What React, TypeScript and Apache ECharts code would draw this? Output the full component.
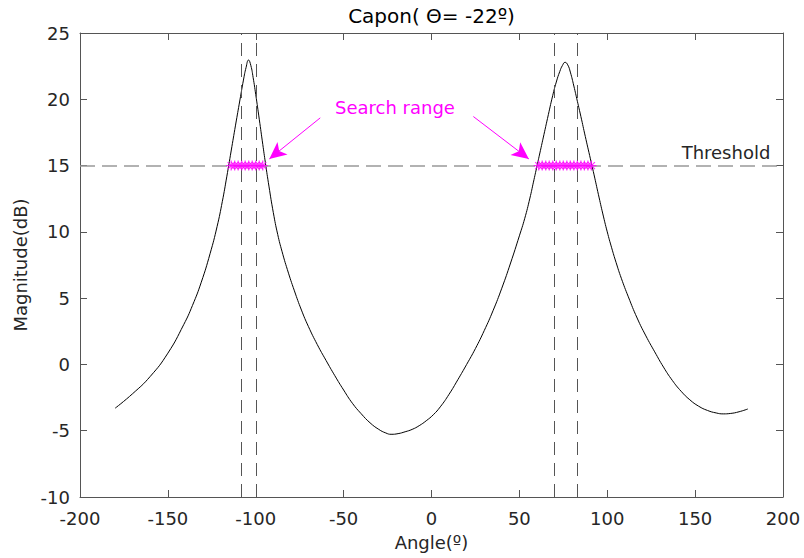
import React, { useEffect, useRef } from "react";
import * as echarts from "echarts";

// Capon spectrum (angle in degrees, magnitude in dB)
const angles = [
  -180, -170, -160, -150, -141, -136, -131, -126, -122, -119, -116.5, -114,
  -111.5, -109, -107, -105.5, -104.1, -102.8, -101.5, -100, -98, -96, -94.5,
  -92.5, -90, -87.5, -85, -82, -78, -74, -70, -65, -60, -55, -50, -45, -40, -35,
  -30, -26, -23, -19, -15, -11, -7, -3, 1, 5, 10, 15, 20, 25, 30, 35, 40, 45, 50,
  53, 56, 58, 60, 62, 64, 66, 69, 71, 73, 74.5, 76, 77.5, 79, 81, 83, 85, 87.5,
  90, 92.5, 95, 97.5, 100, 102.5, 105, 108, 112, 117, 122, 127, 132, 137, 142,
  147, 152, 157, 162, 166, 170, 175, 180,
];
const magnitudes = [
  -3.3, -2.2, -0.9, 0.85, 3.0, 4.45, 6.2, 8.35, 10.4, 12.3, 14.15, 16.1, 18.05,
  19.95, 21.45, 22.4, 22.96, 22.55, 21.65, 20.35, 18.5, 16.6, 15.2, 13.45, 11.45,
  9.8, 8.5, 7.15, 5.55, 4.1, 2.85, 1.5, 0.3, -0.85, -1.93, -2.93, -3.72, -4.4,
  -4.9, -5.17, -5.27, -5.22, -5.08, -4.9, -4.62, -4.25, -3.8, -3.2, -2.25, -1.15,
  0.0, 1.2, 2.55, 4.05, 5.75, 7.65, 9.7, 10.99, 12.55, 13.75, 14.95, 16.15,
  17.35, 18.55, 20.3, 21.3, 22.1, 22.55, 22.79, 22.6, 22.05, 21.0, 19.85, 18.7,
  17.2, 15.75, 14.3, 12.8, 11.35, 10.0, 8.8, 7.7, 6.5, 5.1, 3.5, 2.15, 0.95,
  -0.2, -1.2, -2.02, -2.67, -3.15, -3.47, -3.66, -3.73, -3.7, -3.57, -3.36,
];

const threshold = 15;
const searchBounds = [-108, -100, 70, 83];
const leftStars = [-114, -112, -110, -108, -106, -104, -102, -100, -98, -96];
const rightStars = [61, 63, 65, 67, 69, 71, 73, 75, 77, 79, 81, 83, 85, 87, 89, 91];

// annotation arrows: [start, tip] in data coordinates
const leftArrow = [[-63.3, 18.6], [-92.3, 15.5]];
const rightArrow = [[23.8, 18.7], [55.4, 15.5]];

const xTicks = { min: -200, max: 200, interval: 50 };
const yTicks = { min: -10, max: 25, interval: 5 };

const FONT = "DejaVu Sans";
const TXT = "#262626";
const AXIS = "#555555";
const MAG = "#ff00ff";

const starPath =
  "path://M5 0 L5 10 M0 5 L10 5 M1.5 1.5 L8.5 8.5 M1.5 8.5 L8.5 1.5";

export default function App() {
  const ref = useRef<HTMLDivElement>(null);

  useEffect(() => {
    const chart = echarts.init(ref.current!, null, { renderer: "svg" });

    const baseX = {
      type: "value" as const,
      min: xTicks.min,
      max: xTicks.max,
      interval: xTicks.interval,
      splitLine: { show: false },
      axisLine: { show: true, onZero: false, lineStyle: { color: AXIS, width: 1 } },
      axisTick: { show: true, inside: true, length: 7, lineStyle: { color: AXIS } },
    };
    const baseY = {
      type: "value" as const,
      min: yTicks.min,
      max: yTicks.max,
      interval: yTicks.interval,
      splitLine: { show: false },
      axisLine: { show: true, onZero: false, lineStyle: { color: AXIS, width: 1 } },
      axisTick: { show: true, inside: true, length: 7, lineStyle: { color: AXIS } },
    };

    const curve = angles.map((a, i) => [a, magnitudes[i]]);
    const stars = [...leftStars, ...rightStars].map((a) => [a, threshold]);

    const arrowItem = (arr: number[][]) => [
      { coord: arr[0], symbol: "none" },
      { coord: arr[1], symbol: "arrow", symbolSize: [12, 17] },
    ];

    chart.setOption({
      animation: false,
      backgroundColor: "#ffffff",
      grid: { left: 80, right: 21, top: 33, bottom: 61, containLabel: false },
      xAxis: [
        {
          ...baseX,
          position: "bottom",
          name: "Angle(º)",
          nameLocation: "middle",
          nameGap: 36,
          nameTextStyle: { fontFamily: FONT, fontSize: 18, color: TXT },
          axisLabel: { margin: 12, fontFamily: FONT, fontSize: 18, color: TXT },
        },
        { ...baseX, position: "top", axisLabel: { show: false } },
      ],
      yAxis: [
        {
          ...baseY,
          position: "left",
          name: "Magnitude(dB)",
          nameLocation: "middle",
          nameGap: 50,
          nameTextStyle: { fontFamily: FONT, fontSize: 18, color: TXT },
          axisLabel: { margin: 10, fontFamily: FONT, fontSize: 18, color: TXT },
        },
        { ...baseY, position: "right", axisLabel: { show: false } },
      ],
      graphic: [
        {
          type: "text",
          x: 431.5,
          y: 16,
          style: {
            text: "Capon( Θ= -22º)",
            font: `20px "${FONT}"`,
            fill: "#000000",
            align: "center",
            verticalAlign: "middle",
          },
        },
        {
          type: "text",
          x: 395,
          y: 107,
          style: {
            text: "Search range",
            font: `18px "${FONT}"`,
            fill: MAG,
            align: "center",
            verticalAlign: "middle",
          },
        },
        {
          type: "text",
          x: 726,
          y: 152,
          style: {
            text: "Threshold",
            font: `18px "${FONT}"`,
            fill: TXT,
            align: "center",
            verticalAlign: "middle",
          },
        },
      ],
      series: [
        {
          type: "line",
          data: curve,
          smooth: 0.5,
          showSymbol: false,
          silent: true,
          z: 3,
          lineStyle: { color: "#000000", width: 1 },
          markLine: {
            silent: true,
            symbol: ["none", "none"],
            label: { show: false },
            emphasis: { disabled: true },
            data: [
              ...searchBounds.map((v) => ({
                xAxis: v,
                lineStyle: { color: AXIS, width: 1, type: [13, 8] },
              })),
              {
                yAxis: threshold,
                lineStyle: { color: "#999999", width: 1.5, type: [15, 7] },
              },
              arrowItem(leftArrow).map((p) => ({
                ...p,
                lineStyle: { color: MAG, width: 1, type: "solid" },
              })),
              arrowItem(rightArrow).map((p) => ({
                ...p,
                lineStyle: { color: MAG, width: 1, type: "solid" },
              })),
            ],
          },
        },
        {
          type: "scatter",
          data: stars,
          symbol: starPath,
          symbolSize: 10,
          silent: true,
          z: 5,
          itemStyle: { color: "rgba(0,0,0,0)", borderColor: MAG, borderWidth: 1.2 },
        },
      ],
    });

    return () => chart.dispose();
  }, []);

  return (
    <div
      ref={ref}
      style={{ position: "absolute", left: 0, top: 0, width: 804, height: 558 }}
    />
  );
}
